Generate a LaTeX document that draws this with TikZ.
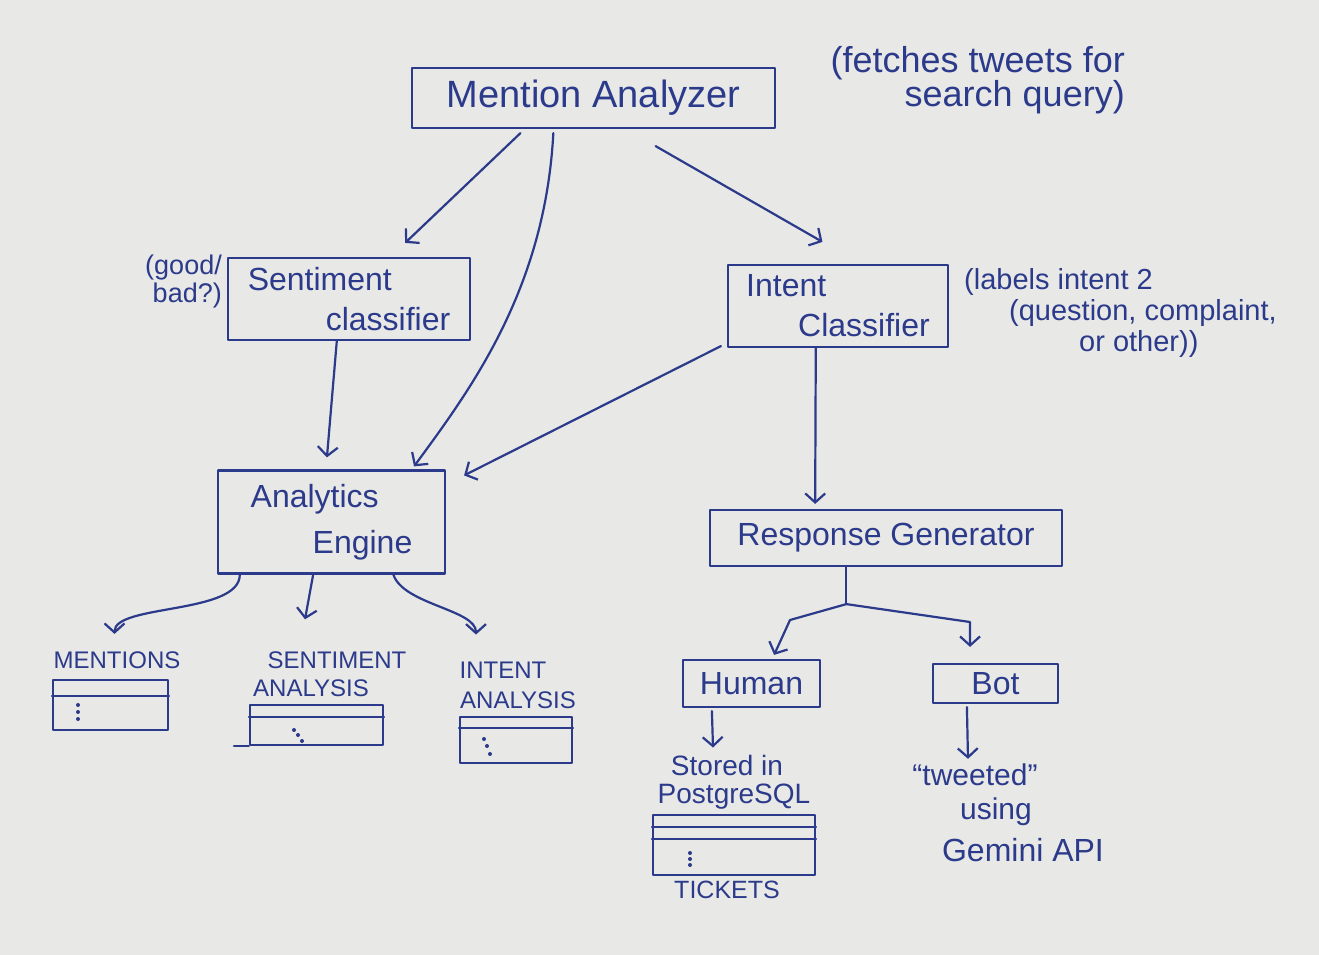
\documentclass[tikz,border=0pt]{standalone}
\usepackage{fontspec}
\setmainfont{Liberation Sans}
\usetikzlibrary{arrows.meta,calc}
\definecolor{paper}{HTML}{E8E8E6}
\definecolor{ink}{HTML}{2B3A8A}
\begin{document}
\begin{tikzpicture}[x=1pt,y=-1pt,
  pen/.style={draw=ink, line width=2.2pt, line cap=round, line join=round},
  box/.style={pen, rectangle, inner sep=0pt, text=ink, font=\fontsize{32}{40}\selectfont},
  lab/.style={text=ink, inner sep=0pt, font=\fontsize{30}{34}\selectfont},
  capt/.style={text=ink, inner sep=0pt, font=\fontsize{24}{26}\selectfont},
  arr/.style={pen, -{Straight Barb[length=9pt,width=20pt,line width=2.2pt]}},
  tbl/.style={pen, rectangle, inner sep=0pt},
  dot/.style={circle, fill=ink, inner sep=0pt, minimum size=4pt}
]
\fill[paper] (0,0) rectangle (1319,955);
\useasboundingbox (0,0) rectangle (1319,955);

% main boxes
\node[box, minimum width=363, minimum height=60, font=\fontsize{38}{40}\selectfont] (ma) at (593.5,98) {Mention Analyzer};
\node[box, minimum width=242, minimum height=82, align=left] (sc) at (349,299) {Sentiment\\\hspace*{78pt}classifier};
\node[box, minimum width=220, minimum height=82, align=left] (ic) at (838,306) {Intent\\\hspace*{52pt}Classifier};
\node[box, minimum width=227, minimum height=103, align=left, font=\fontsize{32}{46}\selectfont] (ae) at (331.5,522) {Analytics\\\hspace*{62pt}Engine};
\node[box, minimum width=352, minimum height=56] (rg) at (886,538) {Response Generator};
\node[box, minimum width=137, minimum height=47] (hu) at (751.5,683.5) {Human};
\node[box, minimum width=125, minimum height=39] (bo) at (995.5,683.5) {Bot};

% notes
\node[lab, align=right, anchor=east, font=\fontsize{36}{34}\selectfont] (n1) at (1125,80) {(fetches tweets for\\search query)};
\node[lab, align=right, anchor=east, font=\fontsize{27}{28}\selectfont] (n2) at (222,282) {(good/\\bad?)};
\node[lab, align=left, anchor=north west, font=\fontsize{29}{31}\selectfont] (n3) at (964,268) {(labels intent 2\\\hspace*{45pt}(question, complaint,\\\hspace*{115pt}or other))};

% analytics outputs
\node[capt] (l1) at (117,660) {MENTIONS};
\node[capt] (l2a) at (337,660) {SENTIMENT};
\node[capt] (l2b) at (311,688) {ANALYSIS};
\node[capt] (l3a) at (503,670) {INTENT};
\node[capt] (l3b) at (518,700) {ANALYSIS};

\node[tbl, minimum width=115, minimum height=50] (t1) at (110.5,705) {};
\draw[pen] ($(t1.north west)+(0,17)$) -- ($(t1.north east)+(0,17)$);
\node[dot] at (78,705) {}; \node[dot] at (78,712) {}; \node[dot] at (78,719) {};

\node[tbl, minimum width=133, minimum height=40] (t2) at (316.5,725) {};
\draw[pen] ($(t2.north west)+(0,13)$) -- ($(t2.north east)+(0,13)$);
\draw[pen] ($(t2.south west)+(-15,0)$) -- (t2.south west);
\node[dot] at (294,730) {}; \node[dot] at (298,735) {}; \node[dot] at (302,741) {};

\node[tbl, minimum width=112, minimum height=46] (t3) at (516,740) {};
\draw[pen] ($(t3.north west)+(0,12)$) -- ($(t3.north east)+(0,12)$);
\node[dot] at (484,739) {}; \node[dot] at (487,746) {}; \node[dot] at (490,754) {};

% human outputs
\node[lab, font=\fontsize{28}{30}\selectfont] (st1) at (727,765) {Stored in};
\node[lab, font=\fontsize{28}{30}\selectfont] (st2) at (734,797) {PostgreSQL};
\node[tbl, minimum width=162, minimum height=60] (t4) at (734,845) {};
\draw[pen] ($(t4.north west)+(0,13)$) -- ($(t4.north east)+(0,13)$);
\draw[pen] ($(t4.north west)+(0,25)$) -- ($(t4.north east)+(0,25)$);
\node[dot] at (690,853) {}; \node[dot] at (690,859) {}; \node[dot] at (690,865) {};
\node[capt, font=\fontsize{25}{26}\selectfont] (tk) at (727,890) {TICKETS};

% bot outputs
\node[lab] (tw1) at (975,775) {``tweeted''};
\node[lab] (tw2) at (996,812) {using};
\node[lab, font=\fontsize{32}{34}\selectfont] (tw3) at (1023,850) {Gemini API};

% connectors
\draw[arr] ($(ma.south west)!0.30!(ma.south east)+(0,4)$) -- ($(sc.north west)!0.73!(sc.north east)+(0,-14)$);
\draw[arr] ($(ma.south west)!0.39!(ma.south east)+(0,4)$) .. controls (545,290) and (470,390) .. ($(ae.north west)!0.86!(ae.north east)+(0,-3)$);
\draw[arr] ($(ma.south west)!0.67!(ma.south east)+(0,17)$) -- ($(ic.north west)!0.43!(ic.north east)+(0,-22)$);
\draw[arr] ($(sc.south west)!0.45!(sc.south east)$) -- ($(ae.north west)!0.48!(ae.north east)+(0,-12)$);
\draw[arr] ($(ic.south west)+(-6,-2)$) -- ($(ae.north east)+(18,6)$);
\draw[arr] ($(ic.south west)!0.40!(ic.south east)$) -- ($(rg.north west)!0.30!(rg.north east)+(0,-5)$);

\coordinate (ab) at ($(ae.south west)!0.10!(ae.south east)$);
\draw[arr] (ab) .. controls +(0,40) and +(0,-30) .. ($(t1.north)+(4,-45)$);
\draw[arr] ($(ae.south west)!0.42!(ae.south east)$) -- ($(l2b.north)+(-6,-60)$);
\draw[arr] ($(ae.south west)!0.77!(ae.south east)$) .. controls +(10,30) and +(0,-25) .. ($(l3a.north)+(-27,-27)$);

\coordinate (rj) at ($(rg.south west)!0.388!(rg.south east)+(0,37)$);
\draw[pen] ($(rg.south west)!0.388!(rg.south east)$) -- (rj);
\draw[arr] (rj) -- (790,620) -- ($(hu.north east)+(-47,-4)$);
\draw[arr] (rj) -- (970,622) -- ($(bo.north west)!0.30!(bo.north east)+(0,-16)$);
\draw[arr] ($(hu.south west)+(30,3)$) -- ($(st1.north)+(-14,-7)$);
\draw[arr] ($(bo.south west)+(35,3)$) -- ($(tw1.north)+(-7,-5)$);
\end{tikzpicture}
\end{document}
